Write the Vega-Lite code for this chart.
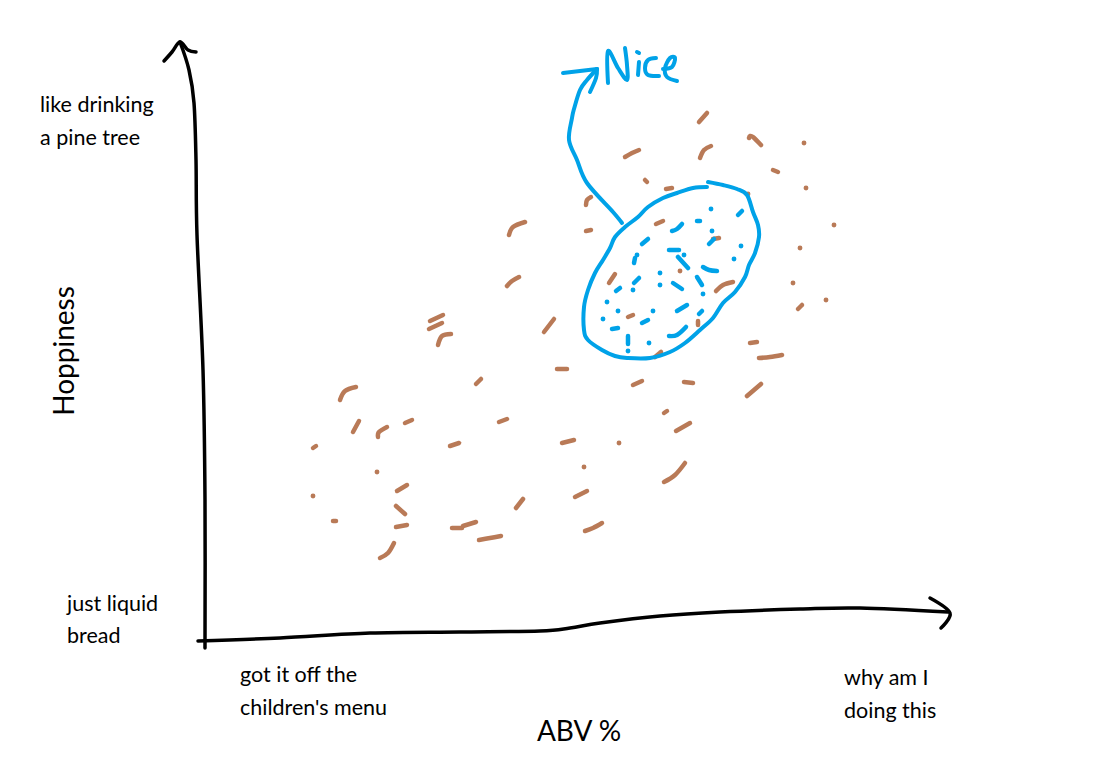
{"$schema":"https://vega.github.io/schema/vega-lite/v6.json","width":1095,"height":780,"autosize":{"type":"none"},"padding":0,"background":"white","config":{"view":{"stroke":null}},
"datasets":{
"black":[{"s":"y","i":0,"x":205,"y":648},{"s":"y","i":1,"x":205,"y":500},{"s":"y","i":2,"x":203,"y":370},{"s":"y","i":3,"x":197,"y":235},{"s":"y","i":4,"x":196,"y":160},{"s":"y","i":5,"x":194,"y":103},{"s":"y","i":6,"x":189,"y":70},{"s":"y","i":7,"x":180,"y":42},
{"s":"yh","i":0,"x":164,"y":61},{"s":"yh","i":1,"x":172,"y":52},{"s":"yh","i":2,"x":180,"y":42},{"s":"yh","i":3,"x":188,"y":50},{"s":"yh","i":4,"x":196,"y":52},
{"s":"x","i":0,"x":198,"y":641},{"s":"x","i":1,"x":280,"y":638},{"s":"x","i":2,"x":370,"y":633},{"s":"x","i":3,"x":460,"y":632},{"s":"x","i":4,"x":540,"y":631},{"s":"x","i":5,"x":570,"y":628},{"s":"x","i":6,"x":600,"y":623},{"s":"x","i":7,"x":660,"y":616},{"s":"x","i":8,"x":720,"y":612},{"s":"x","i":9,"x":800,"y":609},{"s":"x","i":10,"x":860,"y":608},{"s":"x","i":11,"x":948,"y":612},
{"s":"xh","i":0,"x":930,"y":598},{"s":"xh","i":1,"x":950,"y":613},{"s":"xh","i":2,"x":941,"y":628}],
"blue":[{"s":"oval","i":0,"x":708,"y":182},{"s":"oval","i":1,"x":723,"y":185},{"s":"oval","i":2,"x":737,"y":189},{"s":"oval","i":3,"x":747,"y":195},{"s":"oval","i":4,"x":753,"y":212},{"s":"oval","i":5,"x":758,"y":225},{"s":"oval","i":6,"x":759,"y":237},{"s":"oval","i":7,"x":755,"y":253},{"s":"oval","i":8,"x":749,"y":265},{"s":"oval","i":9,"x":745,"y":277},{"s":"oval","i":10,"x":735,"y":292},{"s":"oval","i":11,"x":723,"y":303},{"s":"oval","i":12,"x":713,"y":318},{"s":"oval","i":13,"x":700,"y":330},{"s":"oval","i":14,"x":685,"y":343},{"s":"oval","i":15,"x":670,"y":352},{"s":"oval","i":16,"x":650,"y":358},{"s":"oval","i":17,"x":627,"y":358},{"s":"oval","i":18,"x":615,"y":356},{"s":"oval","i":19,"x":602,"y":350},{"s":"oval","i":20,"x":588,"y":340},{"s":"oval","i":21,"x":584,"y":330},{"s":"oval","i":22,"x":584,"y":307},{"s":"oval","i":23,"x":588,"y":290},{"s":"oval","i":24,"x":595,"y":273},{"s":"oval","i":25,"x":603,"y":260},{"s":"oval","i":26,"x":610,"y":248},{"s":"oval","i":27,"x":615,"y":237},{"s":"oval","i":28,"x":625,"y":227},{"s":"oval","i":29,"x":638,"y":217},{"s":"oval","i":30,"x":648,"y":207},{"s":"oval","i":31,"x":663,"y":198},{"s":"oval","i":32,"x":677,"y":193},{"s":"oval","i":33,"x":693,"y":188},{"s":"oval","i":34,"x":707,"y":187},
{"s":"arrow","i":0,"x":622,"y":223},{"s":"arrow","i":1,"x":613,"y":212},{"s":"arrow","i":2,"x":587,"y":183},{"s":"arrow","i":3,"x":577,"y":160},{"s":"arrow","i":4,"x":569,"y":140},{"s":"arrow","i":5,"x":572,"y":118},{"s":"arrow","i":6,"x":574,"y":109},{"s":"arrow","i":7,"x":580,"y":90},{"s":"arrow","i":8,"x":587,"y":80},{"s":"arrow","i":9,"x":597,"y":69},
{"s":"ah1","i":0,"x":563,"y":73},{"s":"ah1","i":1,"x":597,"y":69},{"s":"ah2","i":0,"x":597,"y":69},{"s":"ah2","i":1,"x":596,"y":78},{"s":"ah2","i":2,"x":590,"y":92},
{"s":"N","i":0,"x":608,"y":83},{"s":"N","i":1,"x":608,"y":51},{"s":"N","i":2,"x":618,"y":68},{"s":"N","i":3,"x":627,"y":80},{"s":"N","i":4,"x":627,"y":65},{"s":"N","i":5,"x":625,"y":48},
{"s":"i","i":0,"x":638,"y":75},{"s":"i","i":1,"x":639,"y":62},{"s":"idot","i":0,"x":637,"y":52},{"s":"idot","i":1,"x":639,"y":53},
{"s":"c","i":0,"x":656,"y":58},{"s":"c","i":1,"x":648,"y":60},{"s":"c","i":2,"x":645,"y":68},{"s":"c","i":3,"x":648,"y":75},{"s":"c","i":4,"x":659,"y":76},
{"s":"e","i":0,"x":663,"y":69},{"s":"e","i":1,"x":672,"y":67},{"s":"e","i":2,"x":675,"y":58},{"s":"e","i":3,"x":670,"y":58},{"s":"e","i":4,"x":665,"y":68},{"s":"e","i":5,"x":667,"y":77},{"s":"e","i":6,"x":677,"y":81}],
"blueDash":[{"s":"b1","i":0,"x":738,"y":215},{"s":"b1","i":1,"x":742,"y":211},{"s":"b2","i":0,"x":672,"y":231},{"s":"b2","i":1,"x":677,"y":229},{"s":"b2","i":2,"x":682,"y":224},{"s":"b3","i":0,"x":709,"y":244},{"s":"b3","i":1,"x":714,"y":239},{"s":"b4","i":0,"x":642,"y":244},{"s":"b4","i":1,"x":648,"y":239},{"s":"b5","i":0,"x":669,"y":250},{"s":"b5","i":1,"x":679,"y":250},{"s":"b6","i":0,"x":634,"y":263},{"s":"b6","i":1,"x":635,"y":258},{"s":"b7","i":0,"x":678,"y":257},{"s":"b7","i":1,"x":688,"y":268},{"s":"b8","i":0,"x":703,"y":267},{"s":"b8","i":1,"x":709,"y":270},{"s":"b8","i":2,"x":717,"y":271},{"s":"b9","i":0,"x":634,"y":283},{"s":"b9","i":1,"x":639,"y":278},{"s":"b10","i":0,"x":697,"y":277},{"s":"b10","i":1,"x":702,"y":285},{"s":"b11","i":0,"x":673,"y":283},{"s":"b11","i":1,"x":682,"y":289},{"s":"b12","i":0,"x":616,"y":291},{"s":"b12","i":1,"x":620,"y":288},{"s":"b13","i":0,"x":677,"y":311},{"s":"b13","i":1,"x":687,"y":305},{"s":"b14","i":0,"x":699,"y":314},{"s":"b14","i":1,"x":702,"y":311},{"s":"b15","i":0,"x":642,"y":323},{"s":"b15","i":1,"x":648,"y":320},{"s":"b16","i":0,"x":612,"y":329},{"s":"b16","i":1,"x":618,"y":328},{"s":"b17","i":0,"x":669,"y":336},{"s":"b17","i":1,"x":677,"y":335},{"s":"b17","i":2,"x":686,"y":327},{"s":"b18","i":0,"x":628,"y":336},{"s":"b18","i":1,"x":628,"y":344},{"s":"b19","i":0,"x":697,"y":221},{"s":"b19","i":1,"x":700,"y":221}],
"blueDot":[{"x":711,"y":209},{"x":712,"y":231},{"x":684,"y":255},{"x":637,"y":255},{"x":741,"y":246},{"x":734,"y":259},{"x":660,"y":273},{"x":660,"y":285},{"x":633,"y":290},{"x":703,"y":294},{"x":607,"y":302},{"x":618,"y":311},{"x":653,"y":311},{"x":603,"y":319},{"x":649,"y":343},{"x":628,"y":351}],
"brown":[{"s":"a1","i":0,"x":699,"y":122},{"s":"a1","i":1,"x":707,"y":113},{"s":"a2","i":0,"x":749,"y":138},{"s":"a2","i":1,"x":750,"y":136},{"s":"a2","i":2,"x":753,"y":137},{"s":"a2","i":3,"x":761,"y":145},{"s":"a3","i":0,"x":700,"y":158},{"s":"a3","i":1,"x":704,"y":150},{"s":"a3","i":2,"x":711,"y":146},{"s":"a4","i":0,"x":625,"y":157},{"s":"a4","i":1,"x":632,"y":153},{"s":"a4","i":2,"x":639,"y":150},{"s":"a5","i":0,"x":773,"y":170},{"s":"a5","i":1,"x":778,"y":172},{"s":"a6","i":0,"x":645,"y":180},{"s":"a6","i":1,"x":647,"y":182},{"s":"a7","i":0,"x":666,"y":189},{"s":"a7","i":1,"x":672,"y":188},{"s":"a8","i":0,"x":586,"y":205},{"s":"a8","i":1,"x":587,"y":200},{"s":"a8","i":2,"x":591,"y":197},{"s":"a9","i":0,"x":586,"y":231},{"s":"a9","i":1,"x":591,"y":230},{"s":"a10","i":0,"x":656,"y":224},{"s":"a10","i":1,"x":663,"y":221},{"s":"a11","i":0,"x":713,"y":239},{"s":"a11","i":1,"x":719,"y":238},{"s":"a12","i":0,"x":609,"y":283},{"s":"a12","i":1,"x":615,"y":274},{"s":"a13","i":0,"x":716,"y":291},{"s":"a13","i":1,"x":723,"y":285},{"s":"a13","i":2,"x":733,"y":282},{"s":"a14","i":0,"x":798,"y":309},{"s":"a14","i":1,"x":802,"y":305},{"s":"a15","i":0,"x":628,"y":317},{"s":"a15","i":1,"x":633,"y":315},{"s":"a16","i":0,"x":698,"y":321},{"s":"a16","i":1,"x":698,"y":325},{"s":"a17","i":0,"x":750,"y":343},{"s":"a17","i":1,"x":757,"y":342},{"s":"a18","i":0,"x":759,"y":358},{"s":"a18","i":1,"x":770,"y":357},{"s":"a18","i":2,"x":782,"y":355},{"s":"a19","i":0,"x":655,"y":357},{"s":"a19","i":1,"x":661,"y":352},{"s":"a20","i":0,"x":557,"y":369},{"s":"a20","i":1,"x":567,"y":369},{"s":"a21","i":0,"x":509,"y":235},{"s":"a21","i":1,"x":513,"y":227},{"s":"a21","i":2,"x":525,"y":222},{"s":"a22","i":0,"x":507,"y":286},{"s":"a22","i":1,"x":512,"y":281},{"s":"a22","i":2,"x":519,"y":277},{"s":"a23","i":0,"x":430,"y":321},{"s":"a23","i":1,"x":443,"y":315},{"s":"a24","i":0,"x":429,"y":329},{"s":"a24","i":1,"x":442,"y":323},{"s":"a25","i":0,"x":438,"y":345},{"s":"a25","i":1,"x":442,"y":336},{"s":"a25","i":2,"x":451,"y":334},{"s":"a26","i":0,"x":544,"y":332},{"s":"a26","i":1,"x":554,"y":319},{"s":"a27","i":0,"x":476,"y":384},{"s":"a27","i":1,"x":481,"y":379},{"s":"a28","i":0,"x":340,"y":400},{"s":"a28","i":1,"x":345,"y":391},{"s":"a28","i":2,"x":356,"y":387},{"s":"a29","i":0,"x":353,"y":432},{"s":"a29","i":1,"x":359,"y":421},{"s":"a30","i":0,"x":378,"y":437},{"s":"a30","i":1,"x":379,"y":432},{"s":"a30","i":2,"x":387,"y":427},{"s":"a31","i":0,"x":405,"y":423},{"s":"a31","i":1,"x":412,"y":420},{"s":"a32","i":0,"x":499,"y":422},{"s":"a32","i":1,"x":507,"y":419},{"s":"a33","i":0,"x":450,"y":446},{"s":"a33","i":1,"x":459,"y":443},{"s":"a34","i":0,"x":562,"y":443},{"s":"a34","i":1,"x":574,"y":440},{"s":"a35","i":0,"x":397,"y":491},{"s":"a35","i":1,"x":407,"y":485},{"s":"a36","i":0,"x":516,"y":508},{"s":"a36","i":1,"x":523,"y":499},{"s":"a37","i":0,"x":396,"y":506},{"s":"a37","i":1,"x":405,"y":514},{"s":"a38","i":0,"x":396,"y":527},{"s":"a38","i":1,"x":407,"y":525},{"s":"a39","i":0,"x":452,"y":528},{"s":"a39","i":1,"x":462,"y":528},{"s":"a40","i":0,"x":463,"y":526},{"s":"a40","i":1,"x":476,"y":522},{"s":"a41","i":0,"x":479,"y":540},{"s":"a41","i":1,"x":490,"y":538},{"s":"a41","i":2,"x":501,"y":536},{"s":"a42","i":0,"x":380,"y":558},{"s":"a42","i":1,"x":388,"y":553},{"s":"a42","i":2,"x":394,"y":543},{"s":"a43","i":0,"x":633,"y":385},{"s":"a43","i":1,"x":642,"y":381},{"s":"a44","i":0,"x":684,"y":382},{"s":"a44","i":1,"x":693,"y":383},{"s":"a45","i":0,"x":747,"y":396},{"s":"a45","i":1,"x":761,"y":384},{"s":"a46","i":0,"x":664,"y":413},{"s":"a46","i":1,"x":667,"y":411},{"s":"a47","i":0,"x":676,"y":431},{"s":"a47","i":1,"x":690,"y":423},{"s":"a48","i":0,"x":664,"y":482},{"s":"a48","i":1,"x":675,"y":475},{"s":"a48","i":2,"x":685,"y":463},{"s":"a49","i":0,"x":575,"y":497},{"s":"a49","i":1,"x":587,"y":491},{"s":"a50","i":0,"x":585,"y":531},{"s":"a50","i":1,"x":593,"y":528},{"s":"a50","i":2,"x":602,"y":523},{"s":"a51","i":0,"x":313,"y":448},{"s":"a51","i":1,"x":316,"y":446},{"s":"a52","i":0,"x":333,"y":521},{"s":"a52","i":1,"x":336,"y":521}],
"brownDot":[{"x":804,"y":143},{"x":806,"y":188},{"x":834,"y":225},{"x":800,"y":248},{"x":680,"y":271},{"x":793,"y":283},{"x":826,"y":300},{"x":748,"y":194},{"x":377,"y":472},{"x":313,"y":496},{"x":619,"y":443},{"x":584,"y":467}],
"labels":[{"t":"like drinking","x":40,"y":106},{"t":"a pine tree","x":40,"y":139},{"t":"just liquid","x":67,"y":605},{"t":"bread","x":67,"y":637},{"t":"got it off the","x":240,"y":676},{"t":"children's menu","x":240,"y":709},{"t":"why am I","x":844,"y":679},{"t":"doing this","x":844,"y":712}]
},
"layer":[
{"data":{"name":"black"},"mark":{"type":"line","color":"#000000","strokeWidth":3.5,"interpolate":"cardinal","strokeCap":"round","strokeJoin":"round"},"encoding":{"x":{"field":"x","type":"quantitative","scale":{"domain":[0,1095],"nice":false,"zero":false},"axis":null},"y":{"field":"y","type":"quantitative","scale":{"domain":[780,0],"nice":false,"zero":false},"axis":null},"detail":{"field":"s"},"order":{"field":"i"}}},
{"data":{"name":"brown"},"mark":{"type":"line","color":"#b97a57","strokeWidth":4.5,"interpolate":"cardinal","strokeCap":"round","strokeJoin":"round"},"encoding":{"x":{"field":"x","type":"quantitative"},"y":{"field":"y","type":"quantitative"},"detail":{"field":"s"},"order":{"field":"i"}}},
{"data":{"name":"brownDot"},"mark":{"type":"point","filled":true,"color":"#b97a57","size":24,"opacity":1},"encoding":{"x":{"field":"x","type":"quantitative"},"y":{"field":"y","type":"quantitative"}}},
{"data":{"name":"blue"},"mark":{"type":"line","color":"#00a2e8","strokeWidth":4,"interpolate":"cardinal","strokeCap":"round","strokeJoin":"round"},"encoding":{"x":{"field":"x","type":"quantitative"},"y":{"field":"y","type":"quantitative"},"detail":{"field":"s"},"order":{"field":"i"}}},
{"data":{"name":"blueDash"},"mark":{"type":"line","color":"#00a2e8","strokeWidth":4.5,"interpolate":"cardinal","strokeCap":"round","strokeJoin":"round"},"encoding":{"x":{"field":"x","type":"quantitative"},"y":{"field":"y","type":"quantitative"},"detail":{"field":"s"},"order":{"field":"i"}}},
{"data":{"name":"blueDot"},"mark":{"type":"point","filled":true,"color":"#00a2e8","size":24,"opacity":1},"encoding":{"x":{"field":"x","type":"quantitative"},"y":{"field":"y","type":"quantitative"}}},
{"data":{"name":"labels"},"mark":{"type":"text","align":"left","baseline":"middle","font":"Lato","fontSize":21.5,"color":"#000000"},"encoding":{"x":{"field":"x","type":"quantitative"},"y":{"field":"y","type":"quantitative"},"text":{"field":"t"}}},
{"data":{"values":[{"t":"ABV %","x":579,"y":733}]},"mark":{"type":"text","align":"center","baseline":"middle","font":"Lato","fontSize":28,"color":"#000000"},"encoding":{"x":{"field":"x","type":"quantitative"},"y":{"field":"y","type":"quantitative"},"text":{"field":"t"}}},
{"data":{"values":[{"t":"Hoppiness","x":66,"y":351}]},"mark":{"type":"text","align":"center","baseline":"middle","angle":270,"font":"Lato","fontSize":28,"color":"#000000"},"encoding":{"x":{"field":"x","type":"quantitative"},"y":{"field":"y","type":"quantitative"},"text":{"field":"t"}}}
]}
